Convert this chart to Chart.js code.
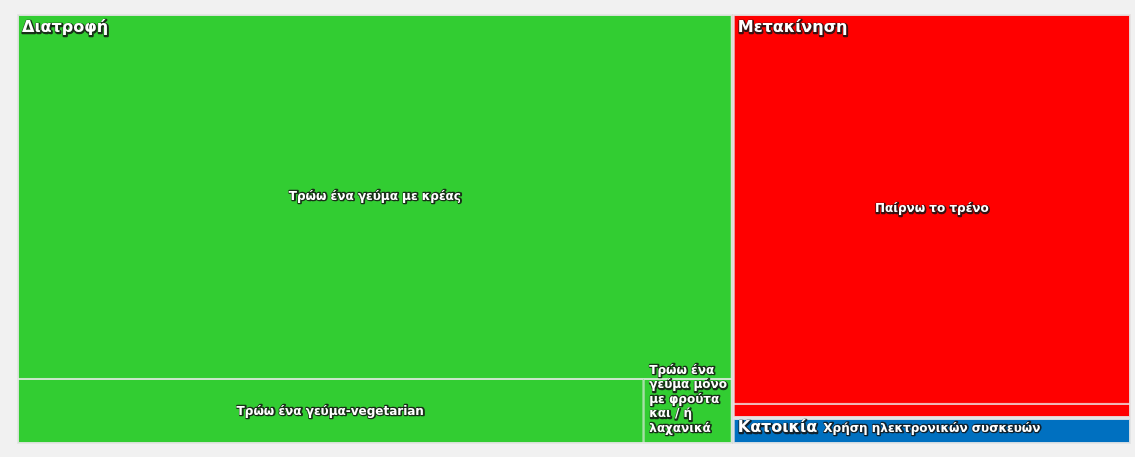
<!DOCTYPE html>
<html><head><meta charset="utf-8">
<script src="https://cdn.jsdelivr.net/npm/chart.js@4"></script>
<style>
html,body{margin:0;padding:0;background:#f1f1f1;}
#wrap{width:1135px;height:457px;position:relative;}
</style>
</head><body>
<div id="wrap"><canvas id="c"></canvas></div>
<script>
// ---- data ----
const groupNames = ['Διατροφή', 'Μετακίνηση', 'Κατοικία'];
const groupColors = ['#32cd32', '#ff0000', '#0070c0'];
const leafNames = [
  'Τρώω ένα γεύμα με κρέας',
  'Τρώω ένα γεύμα-vegetarian',
  'Τρώω ένα γεύμα μόνο με φρούτα και / ή λαχανικά',
  'Παίρνω το τρένο',
  '',
  'Χρήση ηλεκτρονικών συσκευών'
];
const leafParents = [0, 0, 0, 1, 1, 2];
const leafValues = [545, 85, 12.1, 324, 11.7, 21.6];

// plot extent in data units (aspect of the plot area)
const X_MAX = 1114, Y_MAX = 430;

// ---- squarified layout (in data units) ----
function squarify(rect, values, startDir) {
  const total = values.reduce((a, b) => a + b, 0);
  const k = rect.w * rect.h / total;
  const areas = values.map(v => v * k);
  const out = [];
  let free = { x: rect.x, y: rect.y, w: rect.w, h: rect.h };
  let dir = startDir; // 0: column strip at left, 1: row strip at top
  let row = [], rowIdx = [];
  const worst = (r, side) => {
    const s = r.reduce((a, b) => a + b, 0);
    const t = s / side;
    let m = 0;
    r.forEach(a => { const l = a / t; m = Math.max(m, Math.max(t / l, l / t)); });
    return m;
  };
  const place = () => {
    const s = row.reduce((a, b) => a + b, 0);
    if (dir === 0) {
      const t = s / free.h; let y = free.y;
      row.forEach((a, j) => { const hh = a / t; out[rowIdx[j]] = { x: free.x, y: y, w: t, h: hh }; y += hh; });
      free = { x: free.x + t, y: free.y, w: free.w - t, h: free.h };
    } else {
      const t = s / free.w; let x = free.x;
      row.forEach((a, j) => { const ww = a / t; out[rowIdx[j]] = { x: x, y: free.y, w: ww, h: t }; x += ww; });
      free = { x: free.x, y: free.y + t, w: free.w, h: free.h - t };
    }
    row = []; rowIdx = []; dir = 1 - dir;
  };
  areas.forEach((a, i) => {
    const side = dir === 0 ? free.h : free.w;
    if (row.length && worst(row.concat([a]), side) > worst(row, side)) place();
    row.push(a); rowIdx.push(i);
  });
  if (row.length) place();
  return out;
}

function buildLayout() {
  const groupTotals = groupNames.map((g, gi) =>
    leafValues.reduce((s, v, i) => s + (leafParents[i] === gi ? v : 0), 0));
  const groupRects = squarify({ x: 0, y: 0, w: X_MAX, h: Y_MAX }, groupTotals, 0);
  const leafRects = [];
  groupNames.forEach((g, gi) => {
    const idx = leafValues.map((v, i) => i).filter(i => leafParents[i] === gi);
    const rs = squarify(groupRects[gi], idx.map(i => leafValues[i]), 1);
    idx.forEach((i, j) => { leafRects[i] = rs[j]; });
  });
  return { groupRects, leafRects };
}

function outlinedText(ctx, txt, x, y) {
  ctx.lineJoin = 'round';
  ctx.lineWidth = 2.5;
  ctx.strokeStyle = 'rgba(20,20,20,0.85)';
  ctx.strokeText(txt, x + 0.6, y + 0.6);
  ctx.fillStyle = '#ffffff';
  ctx.fillText(txt, x, y);
}

function wrap(ctx, text, maxW) {
  const words = text.split(' ');
  const lines = []; let cur = '';
  words.forEach(w => {
    const t = cur ? cur + ' ' + w : w;
    if (ctx.measureText(t).width > maxW && cur) { lines.push(cur); cur = w; } else cur = t;
  });
  if (cur) lines.push(cur);
  return lines;
}

const treemapPlugin = {
  id: 'treemap',
  afterDatasetsDraw(chart) {
    const ctx = chart.ctx, xs = chart.scales.x, ys = chart.scales.y, ca = chart.chartArea;
    const { groupRects, leafRects } = buildLayout();
    const px = r => {
      const x0 = xs.getPixelForValue(r.x), x1 = xs.getPixelForValue(r.x + r.w);
      const y0 = ys.getPixelForValue(r.y), y1 = ys.getPixelForValue(r.y + r.h);
      return { x: Math.min(x0, x1), y: Math.min(y0, y1), w: Math.abs(x1 - x0), h: Math.abs(y1 - y0) };
    };
    ctx.save();
    // leaf cells
    leafRects.forEach((r, i) => {
      const p = px(r);
      ctx.fillStyle = groupColors[leafParents[i]];
      ctx.fillRect(p.x, p.y, p.w, p.h);
      ctx.strokeStyle = 'rgba(235,235,235,0.85)';
      ctx.lineWidth = 1;
      ctx.strokeRect(p.x + 0.5, p.y + 0.5, p.w - 1, p.h - 1);
    });
    // group borders
    groupRects.forEach(r => {
      const p = px(r);
      ctx.strokeStyle = 'rgba(230,230,230,0.9)';
      ctx.lineWidth = 2;
      ctx.strokeRect(p.x + 1, p.y + 1, p.w - 2, p.h - 2);
    });
    // leaf labels
    ctx.font = 'bold 12px "DejaVu Sans", sans-serif';
    ctx.textBaseline = 'middle';
    leafRects.forEach((r, i) => {
      const name = leafNames[i];
      if (!name) return;
      const p = px(r);
      const maxW = p.w - 6;
      let lines = ctx.measureText(name).width > maxW ? wrap(ctx, name, maxW) : [name];
      const lh = 14.5;
      const blockH = lines.length * lh;
      let top = p.y + p.h / 2 - blockH / 2;
      if (top + blockH > ca.bottom - 8) top = ca.bottom - 8 - blockH;
      if (lines.length > 1) {
        const bw = Math.max(...lines.map(l => ctx.measureText(l).width));
        const left = p.x + p.w / 2 - bw / 2;
        ctx.textAlign = 'left';
        lines.forEach((l, k) => outlinedText(ctx, l, left, top + lh * k + lh / 2));
      } else {
        ctx.textAlign = 'center';
        outlinedText(ctx, name, p.x + p.w / 2, top + lh / 2);
      }
    });
    // group labels
    ctx.font = 'bold 16px "DejaVu Sans", sans-serif';
    ctx.textAlign = 'left';
    ctx.textBaseline = 'top';
    groupRects.forEach((r, gi) => {
      const p = px(r);
      const ty = p.h < 40 ? p.y + 2 : p.y + 6;
      outlinedText(ctx, groupNames[gi], p.x + 5, ty);
    });
    ctx.restore();
  }
};

new Chart(document.getElementById('c'), {
  type: 'scatter',
  data: { datasets: [{ data: [] }] },
  options: {
    responsive: true,
    maintainAspectRatio: false,
    animation: false,
    layout: { padding: { left: 17, top: 14, right: 4, bottom: 13 } },
    plugins: { legend: { display: false }, tooltip: { enabled: false } },
    scales: {
      x: { type: 'linear', min: 0, max: X_MAX, display: false },
      y: { type: 'linear', min: 0, max: Y_MAX, reverse: true, display: false }
    }
  },
  plugins: [treemapPlugin]
});
</script>
</body></html>
